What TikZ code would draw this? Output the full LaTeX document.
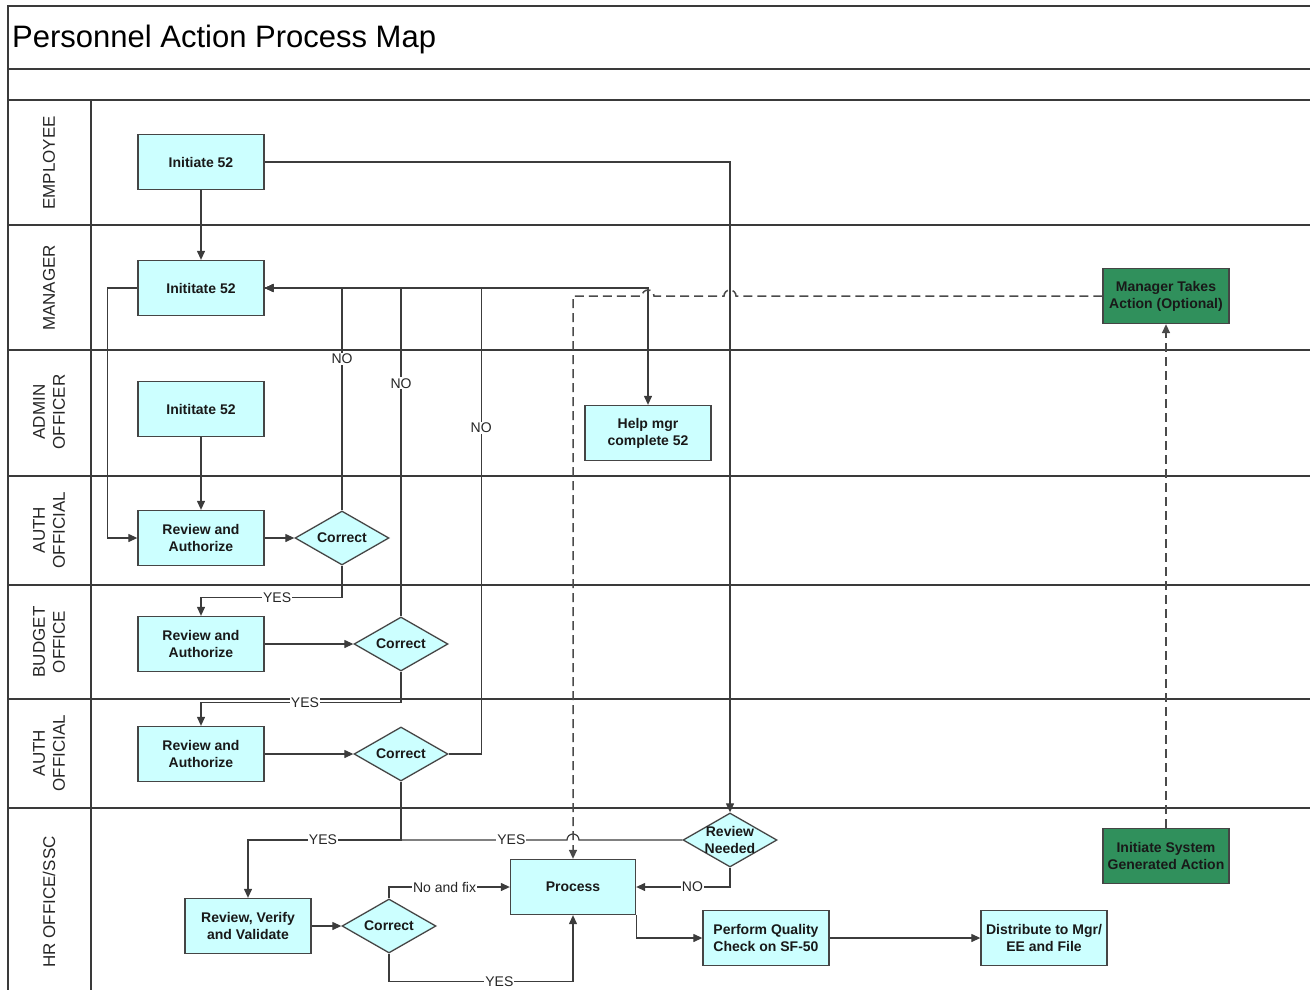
\documentclass[tikz,border=0pt]{standalone}
\usepackage{fontspec}
\setmainfont{Liberation Sans}
\usetikzlibrary{shapes.geometric,arrows.meta}
\definecolor{boxfill}{HTML}{CCFFFF}
\definecolor{boxline}{HTML}{454545}
\definecolor{darkgreen}{HTML}{30905C}
\definecolor{lanecol}{HTML}{3A3A3A}
\definecolor{conncol}{HTML}{3C3C3C}
\definecolor{dashcol}{HTML}{4A4A4A}
\begin{document}
\begin{tikzpicture}[x=1pt,y=-1pt,
  lane/.style={draw=lanecol, line width=1.8pt},
  lanelab/.style={rotate=90, align=center, font=\fontsize{17}{20}\selectfont, text=black!85},
  procbox/.style={draw=boxline, line width=1.3pt, fill=boxfill, minimum width=126pt, minimum height=55pt, inner sep=0pt, font=\bfseries\fontsize{14}{17}\selectfont, align=center, text=black!90},
  greenbox/.style={procbox, fill=darkgreen},
  dia/.style={diamond, aspect=1.74, draw=boxline, line width=1.3pt, fill=boxfill, minimum width=94pt, minimum height=54pt, inner sep=0pt, font=\bfseries\fontsize{14}{17}\selectfont, text=black!90},
  dialab/.style={align=center, inner sep=0pt, font=\bfseries\fontsize{14}{17}\selectfont, text=black!90},
  conn/.style={draw=conncol, line width=1.2pt, -{Triangle[length=9pt,width=8pt]}},
  dconn/.style={conn, draw=dashcol, line width=1.5pt, dash pattern=on 9pt off 5pt},
  elab/.style={fill=white, inner sep=1pt, font=\fontsize{14}{16}\selectfont, text=black!85}]
\useasboundingbox (0,0) rectangle (1310,990);
% frame and lanes
\draw[lane] (1312,6) -- (8,6) -- (8,992);
\draw[lane] (8,69) -- (1312,69);
\draw[lane] (8,100) -- (1312,100);
\foreach \yy in {225,350,476,585,699,808} \draw[lane] (8,\yy) -- (1312,\yy);
\draw[lane] (91,100) -- (91,992);
\node[anchor=west, font=\fontsize{31}{34}\selectfont, inner sep=0pt] (title) at (12,39) {Personnel Action Process Map};
% lane labels
\node[lanelab] (lemp) at (49,163) {EMPLOYEE};
\node[lanelab] (lman) at (49,288) {MANAGER};
\node[lanelab] (ladm) at (49,412) {ADMIN\\OFFICER};
\node[lanelab] (lauth1) at (49,530) {AUTH\\OFFICIAL};
\node[lanelab] (lbud) at (49,642) {BUDGET\\OFFICE};
\node[lanelab] (lauth2) at (49,753) {AUTH\\OFFICIAL};
\node[lanelab] (lhr) at (49,902) {HR OFFICE/SSC};
% nodes
\node[procbox] (emp52) at (201,162) {Initiate 52};
\node[procbox] (man52) at (201,288) {Inititate 52};
\node[procbox] (adm52) at (201,409) {Inititate 52};
\node[procbox] (help) at (648,433) {Help mgr\\complete 52};
\node[greenbox] (mta) at (1166,296) {Manager Takes\\Action (Optional)};
\node[procbox] (ra1) at (201,538) {Review and\\Authorize};
\node[dia] (c1) at (342,538) {Correct};
\node[procbox] (ra2) at (201,644) {Review and\\Authorize};
\node[dia] (c2) at (401,644) {Correct};
\node[procbox] (ra3) at (201,754) {Review and\\Authorize};
\node[dia] (c3) at (401,754) {Correct};
\node[dia, label={[dialab]center:Review\\Needed}] (rn) at (730,840) {};
\node[greenbox] (isg) at (1166,856) {Initiate System\\Generated Action};
\node[procbox] (rvv) at (248,926) {Review, Verify\\and Validate};
\node[dia] (c4) at (389,926) {Correct};
\node[procbox, minimum width=125pt] (proc) at (573,887) {Process};
\node[procbox] (pqc) at (766,938) {Perform Quality\\Check on SF-50};
\node[procbox] (dist) at (1044,938) {Distribute to Mgr/\\EE and File};
% connectors
\draw[conn] (emp52.south) -- (man52.north);
\draw[conn] (emp52.east) -| (rn.north);
\draw[conn] (man52.west) -- ++(-30,0) |- (ra1.west);
\draw[conn] (adm52.south) -- (ra1.north);
\draw[conn] (ra1.east) -- (c1.west);
\draw[conn] (c1.north) -- node[elab, pos=0.68]{NO} (c1.north |- man52.east) -- (man52.east);
\draw[conn] (c2.north) -- node[elab, pos=0.71]{NO} (c2.north |- man52.east) -- (man52.east);
\draw[conn] (c3.east) -- ++(32.5,0) coordinate (c3r) -- node[elab, pos=0.70]{NO} (c3r |- man52.east) -- (man52.east);
\draw[conn] (man52.east) -| (help.north);
\draw[conn] (c1.south) -- ++(0,32) -| node[elab, pos=0.23]{YES} (ra2.north);
\draw[conn] (ra2.east) -- (c2.west);
\draw[conn] (c2.south) -- ++(0,31) -| node[elab, pos=0.24]{YES} (ra3.north);
\draw[conn] (ra3.east) -- (c3.west);
\coordinate (jn) at (c3.south |- rn.west);
\draw[conn] (c3.south) -- (jn) -| node[elab, pos=0.255]{YES} (rvv.north);
\draw[conn, -] (rn.west) -- (579,840) arc (0:-180:6) -- node[elab, pos=0.335]{YES} (jn);
\draw[conn] (rn.south) |- node[elab, pos=0.70]{NO} (proc.east);
\draw[conn] (rvv.east) -- (c4.west);
\draw[conn] (c4.north) |- node[elab, pos=0.73]{No and fix} (proc.west);
\draw[conn] (c4.south) -- ++(0,28) -| node[elab, pos=0.3]{YES} (proc.south);
\draw[conn] (proc.south east) |- (pqc.west);
\draw[conn] (pqc.east) -- (dist.west);
\draw[dconn] (isg.north) -- (mta.south);
\draw[dconn] (mta.west) -- (736,296) arc (0:-180:6) -- (654,296) arc (0:-180:6) -- (proc.north |- mta.west) -- (proc.north);
\end{tikzpicture}
\end{document}
